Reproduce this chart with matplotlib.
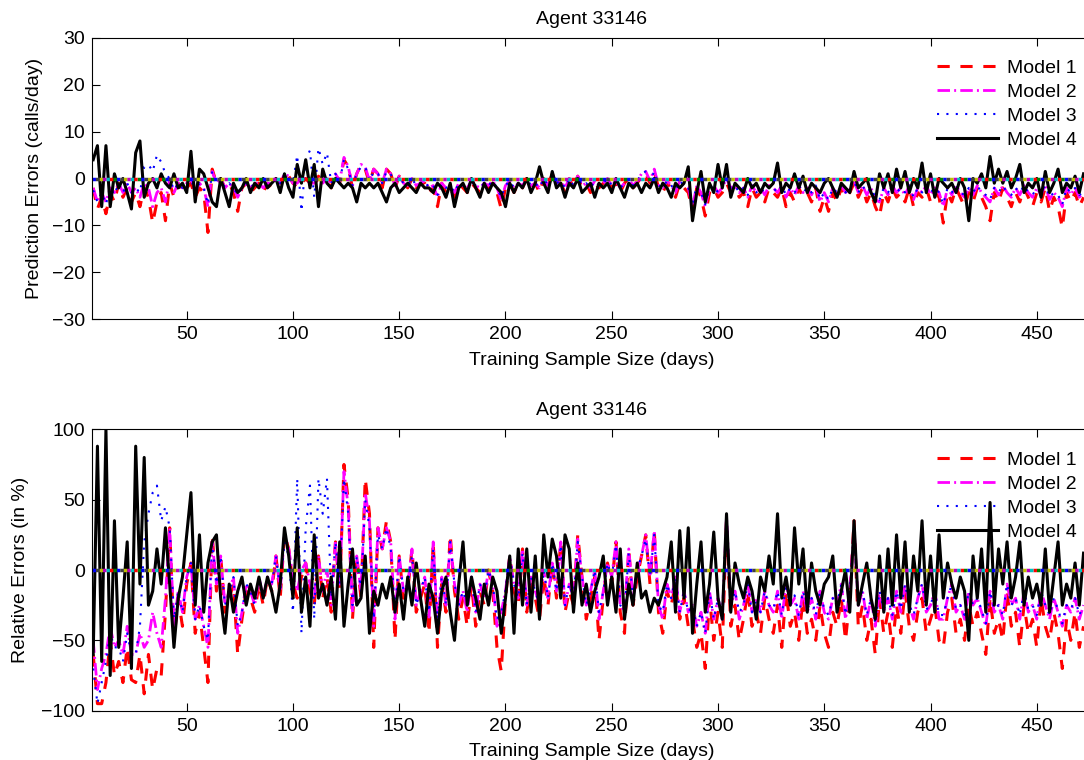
import numpy as np
import matplotlib
matplotlib.use("Agg")
import matplotlib.pyplot as plt

plt.rcParams['font.family'] = ['Liberation Sans', 'DejaVu Sans']
plt.rcParams['font.size'] = 14

# training sample size (days), one reading every 2 days
days = np.arange(6, 473, 2)

# prediction errors (calls/day)
pred_m1 = [
    -2, -6.5, -4, -7.5, -3, -5, -1, -4, -2, -5,
    -3, -6, -2, -4, -9.5, -5, -3, -9, -1, -4,
    -1, -3, -2, -1, -4, -2, -3, -11.5, 2, -1,
    0, -2, -1, -3, -7, -2, -1, -3, -2, -1,
    -3, -1, -2, 0, -1, 1, 0.5, -1, -2, -1,
    0, -1, -2, 0.5, -1, -0.5, -2, 1, -1, 4,
    2.5, -2, 1, 3, 2, -1, 2, 1, -2, 2,
    1, -2, 0.5, -1, -2, 0, -2, -1, -1, -3,
    -2, -6, -1, -3, -2, -4, -1, -2, -3, -1,
    -2, -3, -1, -2, -1, -3, -6.5, -2, -1, -3,
    -1, -2, 0, -2, -1, -3, 0, -2, 1, -1,
    -1, -3, 0, -2, 0.5, -2, -1, -3, -1, -2,
    -1, 0, -2, -1, -3, -1, 0, -2, -1, 0.5,
    1, -1, 1.5, -2, -3, -1, -2, -4, -1, -2,
    -3, -7, -2, -4, -8, -3, -2, -4, -3, -1,
    -3, -2, -4, -3, -6, -2, -4, -3, -5, -2,
    -3, -4, -2, -6, -3, -5, -2, -4, -3, -5,
    -2, -7, -4, -7, -3, -5, -2, -4, -3, -1,
    -4, -2, -5, -3, -6, -8, -3, -5, -2, -4,
    -3, -5, -2, -6, -3, -4, -2, -5, -3, -4,
    -9.5, -3, -5, -2, -4, -6, -3, -5, -2, -4,
    -6, -9, -3, -5, -2, -4, -6, -3, -5, -2,
    -4, -6, -3, -5, -2, -7, -4, -6, -10.5, -3,
    -5, -3, -6, -4]
pred_m2 = [
    -2, -5, -3, -5, -2, -3, -1, -3, -1, -3,
    -2, -4, -1, -2, -6, -3, -2, -5, 0, -3,
    -1, -2, -1, 0, -3, -1, -2, -6, 1.5, -1,
    0, -2, -1, -2, -4, -2, -1, -2, -1, -1,
    -2, -1, -1, 0, -1, 1, 0.5, -1, -1, 0,
    0, -1, -1, 0.5, -1, 0, -1, 1, -0.5, 4.5,
    2.5, -1.5, 1, 3, 2.5, -0.5, 2, 1, -1, 2,
    1, -1.5, 0.5, -1, -1.5, 0, -1.5, -1, -0.5, -2,
    -1.5, -4, -1, -2, -1.5, -3, -1, -1.5, -2, -0.5,
    -1.5, -2, -1, -1.5, -0.5, -2, -4.5, -1.5, -0.5, -2,
    -1, -1.5, 0, -1.5, -1, -2, 0, -1.5, 1, -1,
    -0.5, -2, 0, -1.5, 0.5, -1.5, -1, -2, -0.5, -1.5,
    -1, 0, -1.5, -0.5, -2, -1, 0, -1.5, -0.5, 1,
    1.5, -0.5, 2, -1.5, -2, -0.5, -1.5, -3, -0.5, -1.5,
    -2, -6, -1.5, -3, -6, -2, -1.5, -3, -2, 0,
    -2, -1.5, -3, -2, -4, -1.5, -3, -2, -3.5, -1.5,
    -2, -3, -1.5, -4, -2, -3.5, -1.5, -3, -2, -3.5,
    -1.5, -5, -3, -5, -2, -3.5, -1.5, -3, -2, -0.5,
    -3, -1.5, -3.5, -2, -4.5, -5, -2, -3.5, -1.5, -3,
    -2, -3.5, -1.5, -4.5, -2, -3, -1.5, -3.5, -2, -3,
    -6, -2, -3.5, -1.5, -3, -4, -2, -3.5, -1.5, -3,
    -4, -5, -2, -3.5, -1.5, -3, -4, -2, -3.5, -1.5,
    -3, -4, -2, -3.5, -1.5, -4.5, -3, -4, -6, -2,
    -3.5, -2, -4, -3]
pred_m3 = [
    -2.5, -5, -3, -5.5, -2, -3.5, -1, -3, -1, -3,
    -2, -3, 2.5, 3, 1.5, 5, 3.5, 1, 0, -2.5,
    -1, -2, -1, 0, -3, -1, -2, -5.5, 1.5, -1,
    0, -2, -1, -2, -3.5, -2, -1, -2, -1, -1,
    -2, -1, -1, 0, -1, 1, 0.5, -1, 5, -7,
    4, 6, -4, 6.5, 3, 5.5, -1, 1, -0.5, 4,
    2, -1.5, 1, 2.5, 2.5, -0.5, 1.5, 1, -1, 1.5,
    1, -1.5, 0.5, -1, -1.5, 0, -1.5, -1, -0.5, -2,
    -1.5, -3.5, -1, -2, -1.5, -3, -1, -1.5, -2, -0.5,
    -1.5, -2, -1, -1.5, -0.5, -2, -4, -1.5, -0.5, -2,
    -1, -1.5, 0, -1.5, -1, -2, 0, -1.5, 1, -1,
    -0.5, -2, 0, -1.5, 0.5, -1.5, -1, -2, -0.5, -1.5,
    -1, 0, -1.5, -0.5, -2, -1, 0, -1.5, -0.5, 1,
    1.5, -0.5, 1.5, -1.5, -2, -0.5, -1.5, -2.5, -0.5, -1.5,
    -2, -5.5, -1.5, -3, -5.5, -2, -1.5, -3, -2, 0,
    -2, -1.5, -3, -2, -3.5, -1.5, -3, -2, -3, -1.5,
    -2, -3, -1.5, -3.5, -2, -3, -1.5, -3, -2, -3,
    -1.5, -4.5, -3, -4.5, -2, -3, -1.5, -3, -2, -0.5,
    -3, -1.5, -3, -2, -4, -4.5, -2, -3, -1.5, -3,
    -2, -3, -1.5, -4, -2, -3, -1.5, -3, -2, -3,
    -5.5, -2, -3, -1.5, -3, -3.5, -2, -3, -1.5, -3,
    -3.5, -4.5, -2, -3, -1.5, -3, -3.5, -2, -3, -1.5,
    -3, -3.5, -2, -3, -1.5, -4, -3, -3.5, -5.5, -2,
    -3, -2, -3.5, -3]
pred_m4 = [
    4, 7, -6, 7, -6, 1, -2, 0, -3, -6.5,
    5.5, 8, -4, -1, 0, -2, 1, -1, -2, 1,
    -2, -1, -3, 5.8, -5, 2, 1, -2, -5, -6,
    0, -3, -6, -1, -3, -2, 0, -3, -1, -2,
    0, -2, -1, 0, -3, 1, -2, -4, 3, -1,
    4, -2, 3, -6, 2, -1, -2, 0, -1, -2,
    -1, -2, -5, -1, -2, -1, -2, -1, -3, -5,
    -2, -1, -3, -2, -1, -2, -3, -1, -2, -2,
    -3, -1, -2, -4, -1, -6, -2, -1, -3, 0,
    -2, -4, -1, -3, -1, -2, -3, -6, -1, -3,
    -1, -2, 0, -3, -1, 2.5, -1, -3, 1.5, -2,
    -1, -4, -1, -2, 0, -3, -2, -1, -4, -1,
    -2, -1, -3, 0, -2, -4, -1, -2, -1, -3,
    -1, -2, 0, -3, -1, -2, -4, -1, -2, -1,
    2.5, -9, -3, 1.5, -5, -1, -3, 3, -2, 3,
    -4, -1, -2, -3, 0, -2, -1, -3, -1, -2,
    -1, 3.3, -3, -1, -2, 1, -2, 0.5, -3, -1,
    -2, -3, -1, 0, -2, -4, -1, -2, -3, 1.5,
    -2, -1, 0, -3, -5, 1, -2, 1, -3, 2,
    -2, 1.5, -3, 0, -2, 3.3, -3, 1, -4, 0,
    -1, -2, -1, -3, 0, -2, -9, 0, -1, 1,
    -2, 4.7, -1, 2, -1, 1.5, -2, 0, 3, -3,
    -1, -2, 0, -4, 1.5, -3, -1, 2, -3, -1,
    -2, 0.5, -3, 1]

# relative errors (%)
rel_m1 = [
    -60, -95, -95, -80, -50, -75, -65, -80, -55, -78,
    -80, -60, -88, -60, -85, -70, -75, -30, 30, -50,
    -20, -40, -10, 5, -45, -30, -55, -80, 25, -15,
    10, -30, -20, -10, -60, -35, -15, -20, -30, -10,
    -25, -5, -15, 10, -20, 25, 15, -10, -20, -5,
    5, -15, -25, 10, -20, -5, -30, 20, -15, 75,
    50, -35, 10, -20, 65, 40, -55, 30, 15, 35,
    20, -50, 10, -20, -15, 15, -30, -20, -10, -45,
    20, -55, -10, -30, 25, -15, -35, -20, -40, -10,
    -40, -15, -25, 0, -15, -55, -72, -20, 10, -15,
    -25, 15, -30, -10, -20, -35, -5, -25, 5, -20,
    20, -30, -15, -25, 25, -5, -35, -20, -5, -50,
    -20, 5, -10, 20, -30, -45, 15, -25, -5, 10,
    25, -10, 28, -30, -45, -15, -25, -10, -35, -20,
    -40, -35, -55, -45, -70, -20, -50, -30, -55, 35,
    -40, -25, -50, -35, -15, -40, -30, -45, -20, -35,
    -45, -25, -55, -15, -40, -30, -50, -20, -45, -35,
    -50, -25, -45, -55, -30, -40, -20, -50, -20, 35,
    -40, -25, -50, -35, -60, -20, -45, -30, -55, -25,
    -45, -15, -40, -50, -30, -20, -45, -35, -25, -50,
    -55, -30, -20, -45, -35, -50, -25, -40, -30, -45,
    -60, -20, -45, -35, -50, -15, -40, -30, -55, -25,
    -45, -35, -55, -20, -40, -50, -30, -45, -70, -35,
    -50, -30, -55, -40]
rel_m2 = [
    -50, -85, -70, -60, -40, -55, -50, -60, -40, -60,
    -60, -45, -55, -50, -30, -45, -55, -20, 30, -40,
    -15, -30, -5, 5, -35, -25, -40, -55, 20, -10,
    10, -25, -15, -5, -45, -30, -10, -15, -25, -5,
    -20, -5, -10, 10, -15, 25, 15, -5, -15, 0,
    5, -10, -20, 10, -15, 0, -25, 20, -10, 70,
    45, -30, 10, -15, 55, 35, -40, 30, 15, 30,
    20, -35, 10, -15, -10, 15, -25, -15, -5, -35,
    20, -40, -5, -25, 20, -10, -25, -15, -30, -5,
    -30, -10, -20, 0, -10, -40, -30, -15, 10, -10,
    -20, 15, -25, -5, -15, -25, 0, -20, 5, -15,
    20, -25, -10, -20, 22, -5, -25, -15, 0, -35,
    -15, 5, -5, 20, -25, -30, 15, -20, 0, 10,
    25, -5, 28, -25, -35, -10, -20, -5, -30, -15,
    -30, -25, -40, -30, -45, -15, -35, -20, -35, 38,
    -25, -15, -35, -25, -10, -30, -20, -30, -15, -25,
    -30, -15, -35, -10, -25, -20, -35, -15, -30, -20,
    -35, -15, -30, -35, -20, -25, -10, -35, -15, 30,
    -25, -15, -35, -20, -40, -15, -30, -20, -35, -15,
    -30, -10, -25, -35, -20, -10, -30, -25, -15, -35,
    -35, -20, -10, -30, -25, -35, -15, -25, -20, -30,
    -40, -15, -30, -25, -35, -10, -25, -20, -35, -15,
    -30, -25, -35, -15, -25, -35, -20, -30, -40, -25,
    -30, -20, -35, -25]
rel_m3 = [
    -70, -95, -80, -65, -45, -55, -55, -65, -45, -60,
    -60, -40, 20, 40, 55, 60, 35, 45, 30, -35,
    -15, -30, -5, 5, -35, -25, -40, -50, 20, -10,
    10, -25, -15, -5, -40, -30, -10, -15, -25, -5,
    -20, -5, -10, 10, -15, 20, 10, -30, 65, -45,
    30, 60, -35, 65, 40, 65, -20, 20, -10, 65,
    40, -25, 10, -15, 50, 30, -35, 25, 15, 30,
    15, -30, 10, -15, -10, 10, -25, -15, -5, -30,
    15, -35, -5, -25, 20, -10, -25, -15, -25, -5,
    -30, -10, -20, 0, -10, -35, -30, -15, 10, -10,
    -20, 12, -25, -5, -15, -25, 0, -20, 5, -15,
    18, -25, -10, -20, 20, -5, -25, -15, 0, -30,
    -15, 5, -5, 18, -25, -30, 12, -20, 0, 10,
    22, -5, 25, -25, -30, -10, -20, -5, -30, -15,
    -30, -25, -40, -30, -45, -15, -35, -20, -30, 38,
    -25, -15, -30, -25, -10, -30, -20, -30, -15, -25,
    -28, -15, -32, -10, -25, -18, -32, -15, -28, -20,
    -32, -15, -28, -32, -20, -25, -10, -32, -15, 28,
    -25, -15, -32, -20, -38, -15, -28, -20, -32, -15,
    -28, -10, -25, -32, -20, -10, -28, -25, -15, -32,
    -32, -20, -10, -28, -25, -32, -15, -25, -20, -28,
    -38, -15, -28, -25, -32, -10, -25, -20, -32, -15,
    -28, -25, -32, -15, -25, -32, -20, -28, -38, -25,
    -28, -20, -32, -25]
rel_m4 = [
    -60, 88, -65, 100, -75, 35, -55, -20, 20, -70,
    88, -10, 80, -25, -15, 15, -10, 30, -10, -55,
    -20, -5, 25, 55, -25, 25, -30, 5, 20, 25,
    -20, -45, -10, -30, -15, -5, -25, -10, -20, -5,
    -20, -5, -15, -30, -10, 30, 10, -20, 30, -30,
    -5, -40, 25, -20, -10, -25, -5, -35, 20, -40,
    -10, 15, -25, -20, 10, -45, -15, -25, -10, -20,
    -5, -30, -10, -35, -5, -25, 5, -20, -40, -10,
    -20, -45, -15, -5, -30, -50, -10, 20, -25, -5,
    -20, -35, -10, -25, -5, -15, -45, -20, 10, -45,
    15, -25, 15, -30, 10, -35, 25, -5, 22, 10,
    -20, 25, 15, -30, 5, -25, -10, -30, -15, -5,
    10, -25, -5, -30, 15, -35, -10, -25, 5, -20,
    -15, -30, -20, -25, -15, -5, 20, -30, 28, -20,
    30, -45, -10, 20, -30, -10, 27, -20, -35, 40,
    -30, 5, -10, -20, -5, -15, -35, -5, -15, 10,
    -10, 40, -20, -5, -25, 30, -10, 15, -30, 5,
    -15, -25, -10, -5, 10, -30, -15, 0, -30, 35,
    -25, -10, 5, -20, -35, 10, -30, 15, -25, 25,
    -20, 20, -30, 10, -15, 35, -25, 10, -30, 25,
    -20, 5, -10, -20, -5, -15, -50, 10, -20, 15,
    -30, 48, -25, 15, -10, 20, -20, -5, 20, -25,
    -5, -20, -10, -25, 15, -30, -5, 20, -25, -10,
    -20, 5, -25, 12]

labels = ['Model 1', 'Model 2', 'Model 3', 'Model 4']
# colours of the dotted zero reference line
zero_cols = ['#0000ff', '#008000', '#ff0000', '#00bfbf', '#bf00bf', '#bfbf00', '#404040']

W, H = 1084, 760
fig = plt.figure(figsize=(W / 100, H / 100), dpi=100)
ax1 = fig.add_axes([92 / W, 1 - 319.3 / H, 999 / W, 281.6 / H])
ax2 = fig.add_axes([92 / W, 1 - 710.7 / H, 999 / W, 281.4 / H])


def panel(ax, m1, m2, m3, m4, ylim, yticks, ylabel, lab_x, leg_y):
    l1, = ax.plot(days, m1, color='#ff0000', lw=2.2, dashes=(4, 3.5))
    l2, = ax.plot(days, m2, color='#ff00ff', lw=2.0, dashes=(4.5, 1.5, 0.7, 1.5))
    l3, = ax.plot(days, m3, color='#0000ff', lw=1.5, dashes=(1, 3.5))
    l4, = ax.plot(days, m4, color='k', lw=2.2)
    for i, c in enumerate(zero_cols):
        ax.axhline(0, color=c, lw=2.5, ls=(i, (1, 6)))
    ax.set_xlim(5.44, 475.5)
    ax.set_ylim(*ylim)
    ax.set_xticks(range(50, 451, 50))
    ax.set_yticks(yticks)
    ax.tick_params(direction='in', top=True, right=False, length=6, width=0.8, pad=5)
    for s in ax.spines.values():
        s.set_linewidth(0.8)
    ax.set_title('Agent 33146', pad=10, fontsize=14)
    ax.set_xlabel('Training Sample Size (days)', labelpad=6)
    ax.set_ylabel(ylabel)
    ax.yaxis.set_label_coords(lab_x, 0.5)
    ax.legend([l1, l2, l3, l4], labels, loc='upper left',
              bbox_to_anchor=(937 / W, leg_y), bbox_transform=fig.transFigure,
              frameon=False, borderpad=0, borderaxespad=0, handlelength=3.15,
              handletextpad=0.45, labelspacing=0.33)


panel(ax1, pred_m1, pred_m2, pred_m3, pred_m4, (-30, 30), range(-30, 31, 10),
      'Prediction Errors (calls/day)', -0.049, 1 - 59 / H)
panel(ax2, rel_m1, rel_m2, rel_m3, rel_m4, (-100, 100), range(-100, 101, 50),
      'Relative Errors (in %)', -0.063, 1 - 451 / H)

fig.savefig('out.png', dpi=100)
